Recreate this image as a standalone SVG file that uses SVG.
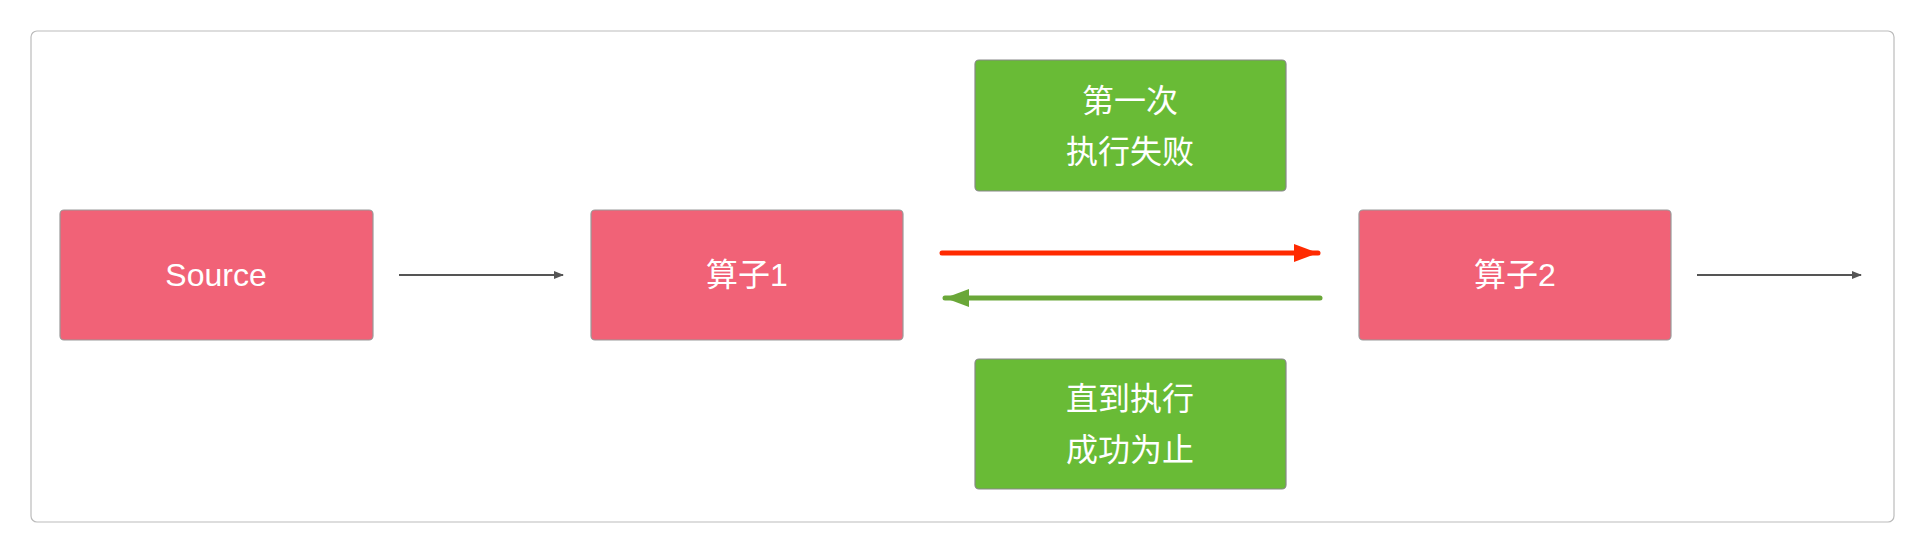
<svg xmlns="http://www.w3.org/2000/svg" width="1924" height="552" viewBox="0 0 1924 552">
<style>
.red{fill:#f16277;stroke:#999;stroke-width:1.2}
.grn{fill:#69bb36;stroke:#888;stroke-width:1.2}
text{font-family:"Liberation Sans","Noto Sans CJK SC",sans-serif;font-size:32px;fill:#fff;text-anchor:middle;dominant-baseline:central}
</style>
<defs>
<marker id="ag" markerWidth="10" markerHeight="8" refX="9" refY="4" orient="auto" markerUnits="userSpaceOnUse"><path d="M0,0 L10,4 L0,8 Z" fill="#555"/></marker>
<marker id="ar" markerWidth="24" markerHeight="18" refX="24" refY="9" orient="auto" markerUnits="userSpaceOnUse"><path d="M0,0 L24,9 L0,18 Z" fill="#ff2a00"/></marker>
<marker id="agr" markerWidth="24" markerHeight="18" refX="24" refY="9" orient="auto" markerUnits="userSpaceOnUse"><path d="M0,0 L24,9 L0,18 Z" fill="#6aa738"/></marker>
</defs>
<rect x="31" y="31" width="1863" height="491" rx="6" fill="#fff" stroke="#bbb" stroke-width="1.2"/>
<g id="source"><rect class="red" x="60" y="210" width="313" height="130" rx="4"/><text x="216" y="275">Source</text></g>
<g id="op1"><rect class="red" x="591" y="210" width="312" height="130" rx="4"/><text x="747" y="275">算子1</text></g>
<g id="op2"><rect class="red" x="1359" y="210" width="312" height="130" rx="4"/><text x="1515" y="275">算子2</text></g>
<g id="fail"><rect class="grn" x="975" y="60" width="311" height="131" rx="4"/><text x="1130" y="101">第一次</text><text x="1130" y="152">执行失败</text></g>
<g id="until"><rect class="grn" x="975" y="359" width="311" height="130" rx="4"/><text x="1130" y="399">直到执行</text><text x="1130" y="450">成功为止</text></g>
<g id="connectors" fill="none">
<line x1="399" y1="275" x2="563" y2="275" stroke="#555" stroke-width="2" marker-end="url(#ag)"/>
<line x1="942" y1="253" x2="1318" y2="253" stroke="#ff2a00" stroke-width="5" stroke-linecap="round" marker-end="url(#ar)"/>
<line x1="1320" y1="298" x2="945" y2="298" stroke="#6aa738" stroke-width="5" stroke-linecap="round" marker-end="url(#agr)"/>
<line x1="1697" y1="275" x2="1861" y2="275" stroke="#555" stroke-width="2" marker-end="url(#ag)"/>
</g>
</svg>
